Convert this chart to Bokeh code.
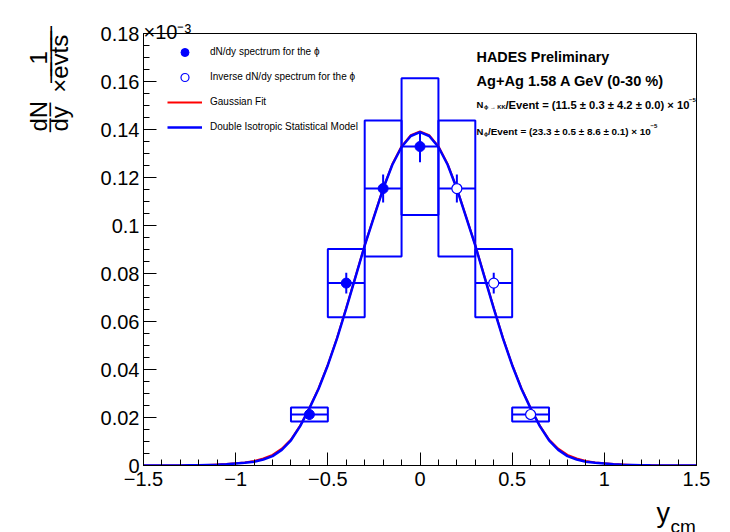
import math
from bokeh.plotting import figure
from bokeh.models import (Range1d, FixedTicker, Label, Legend, LegendItem,
                          ColumnDataSource)
from bokeh.embed import file_html
from bokeh.resources import INLINE

# ---------------- data ----------------
y_cm = [-0.6, -0.4, -0.2, 0.0]
dndy = [0.02125, 0.0760, 0.1154, 0.1329]
stat_err = [0.0021, 0.0043, 0.0058, 0.0065]
sys_err = [0.0029, 0.0142, 0.0283, 0.0285]
x_err = [0.1, 0.1, 0.1, 0.1]

inv_y_cm = [0.2, 0.4, 0.6]
inv_dndy = [0.1154, 0.0760, 0.02125]
inv_stat_err = [0.0058, 0.0043, 0.0021]
inv_sys_err = [0.0283, 0.0142, 0.0029]
inv_x_err = [0.1, 0.1, 0.1]

curve_x = [-1.5, -1.45, -1.4, -1.35, -1.3, -1.25, -1.2, -1.15, -1.1, -1.05,
           -1.0, -0.95, -0.9, -0.85, -0.8, -0.75, -0.7, -0.65, -0.6, -0.55,
           -0.5, -0.45, -0.4, -0.35, -0.3, -0.25, -0.2, -0.15, -0.1, -0.05,
           0.0, 0.05, 0.1, 0.15, 0.2, 0.25, 0.3, 0.35, 0.4, 0.45,
           0.5, 0.55, 0.6, 0.65, 0.7, 0.75, 0.8, 0.85, 0.9, 0.95,
           1.0, 1.05, 1.1, 1.15, 1.2, 1.25, 1.3, 1.35, 1.4, 1.45, 1.5]
model_y = [0.0, 0.0, 0.0, 0.00001, 0.00003, 0.00006, 0.0001, 0.0002, 0.0003, 0.0005,
           0.0008, 0.0011, 0.0016, 0.0025, 0.0039, 0.0065, 0.0105, 0.0164, 0.0238, 0.0320,
           0.0418, 0.0530, 0.0655, 0.0785, 0.0916, 0.1035, 0.1153, 0.1253, 0.1327, 0.1373,
           0.1389, 0.1373, 0.1327, 0.1253, 0.1153, 0.1035, 0.0916, 0.0785, 0.0655, 0.0530,
           0.0418, 0.0320, 0.0238, 0.0164, 0.0105, 0.0065, 0.0039, 0.0025, 0.0016, 0.0011,
           0.0008, 0.0005, 0.0003, 0.0002, 0.0001, 0.00006, 0.00003, 0.00001, 0.0, 0.0, 0.0]
gauss_y = [0.0, 0.0, 0.00001, 0.00002, 0.00005, 0.0001, 0.00015, 0.0002, 0.0004, 0.0006,
           0.0009, 0.0013, 0.0019, 0.0029, 0.0044, 0.0070, 0.0108, 0.0166, 0.0240, 0.0322,
           0.0420, 0.0532, 0.0657, 0.0787, 0.0918, 0.1037, 0.1155, 0.1256, 0.1330, 0.1376,
           0.1392, 0.1376, 0.1330, 0.1256, 0.1155, 0.1037, 0.0918, 0.0787, 0.0657, 0.0532,
           0.0420, 0.0322, 0.0240, 0.0166, 0.0108, 0.0070, 0.0044, 0.0029, 0.0019, 0.0013,
           0.0009, 0.0006, 0.0004, 0.0002, 0.00015, 0.0001, 0.00005, 0.00002, 0.00001, 0.0, 0.0]

x_ticks = [-1.5, -1.0, -0.5, 0.0, 0.5, 1.0, 1.5]
x_tick_labels = ["\u22121.5", "\u22121", "\u22120.5", "0", "0.5", "1", "1.5"]
y_ticks = [0.0, 0.02, 0.04, 0.06, 0.08, 0.10, 0.12, 0.14, 0.16, 0.18]
y_tick_labels = ["0", "0.02", "0.04", "0.06", "0.08", "0.1", "0.12", "0.14", "0.16", "0.18"]

legend_labels = ["dN/dy spectrum for the \u03d5",
                 "Inverse dN/dy spectrum for the \u03d5",
                 "Gaussian Fit",
                 "Double Isotropic Statistical Model"]

# ---------------- layout ----------------
W, H = 730, 532
FL, FR, FT, FB = 143, 696, 33, 465   # frame edges in page pixels
BLUE = "#0000ff"
RED = "#ff0000"
FONT = "Liberation Sans"

p = figure(width=W, height=H, output_backend="svg", toolbar_location=None,
           x_range=Range1d(-1.5, 1.5), y_range=Range1d(0, 0.18),
           min_border_left=FL, min_border_right=W - FR,
           min_border_top=FT, min_border_bottom=H - FB)
p.background_fill_color = "white"
p.border_fill_color = "white"
p.outline_line_color = "black"
p.outline_line_width = 1
p.xgrid.visible = False
p.ygrid.visible = False

for ax, ticks, labels in ((p.xaxis[0], x_ticks, x_tick_labels),
                          (p.yaxis[0], y_ticks, y_tick_labels)):
    ax.major_label_overrides = {t: l for t, l in zip(ticks, labels)}
    ax.major_label_text_font = FONT
    ax.major_label_text_font_size = "20px"
    ax.major_label_text_color = "black"
    ax.axis_line_color = "black"
    ax.axis_line_width = 1
    ax.major_tick_line_color = "black"
    ax.minor_tick_line_color = "black"
    ax.major_tick_in = 13
    ax.major_tick_out = 0
    ax.minor_tick_in = 6
    ax.minor_tick_out = 0

x_minor = [round(-1.5 + 0.1 * i, 2) for i in range(31)]
y_minor = [round(0.005 * i, 3) for i in range(37)]
p.xaxis[0].ticker = FixedTicker(ticks=x_ticks, minor_ticks=x_minor)
p.yaxis[0].ticker = FixedTicker(ticks=y_ticks, minor_ticks=y_minor)
p.xaxis[0].major_label_standoff = 6
p.yaxis[0].major_label_standoff = 4

# ---------------- systematic boxes ----------------
all_x = y_cm + inv_y_cm
all_y = dndy + inv_dndy
all_sys = sys_err + inv_sys_err
all_xe = x_err + inv_x_err
box_src = ColumnDataSource(dict(
    left=[x - e for x, e in zip(all_x, all_xe)],
    right=[x + e for x, e in zip(all_x, all_xe)],
    bottom=[y - s for y, s in zip(all_y, all_sys)],
    top=[y + s for y, s in zip(all_y, all_sys)]))
p.quad(left="left", right="right", bottom="bottom", top="top", source=box_src,
       fill_color=None, line_color=BLUE, line_width=2)

# ---------------- curves ----------------
r_gauss = p.line(curve_x, gauss_y, line_color=RED, line_width=2)
r_model = p.line(curve_x, model_y, line_color=BLUE, line_width=2.5)

# ---------------- error bars ----------------
all_stat = stat_err + inv_stat_err
p.segment(x0=all_x, x1=all_x,
          y0=[y - s for y, s in zip(all_y, all_stat)],
          y1=[y + s for y, s in zip(all_y, all_stat)],
          line_color=BLUE, line_width=2)
p.segment(x0=[x - e for x, e in zip(all_x, all_xe)],
          x1=[x + e for x, e in zip(all_x, all_xe)],
          y0=all_y, y1=all_y, line_color=BLUE, line_width=2)

# ---------------- points ----------------
r_fill = p.scatter(y_cm, dndy, marker="circle", size=10,
                   fill_color=BLUE, line_color=BLUE)
r_open = p.scatter(inv_y_cm, inv_dndy, marker="circle", size=10,
                   fill_color="white", line_color=BLUE, line_width=1.2)

# ---------------- legend ----------------
legend = Legend(items=[LegendItem(label=legend_labels[0], renderers=[r_fill]),
                       LegendItem(label=legend_labels[1], renderers=[r_open]),
                       LegendItem(label=legend_labels[2], renderers=[r_gauss]),
                       LegendItem(label=legend_labels[3], renderers=[r_model])],
                location=(167 - FL, FB - 136.5),
                padding=0, margin=0, spacing=5,
                glyph_width=35, glyph_height=20, label_height=20,
                label_standoff=8, label_text_font=FONT,
                label_text_font_size="10px", label_text_color="black",
                border_line_color=None, background_fill_alpha=0.0)
p.add_layout(legend, "center")


# ---------------- free texts ----------------
def lab(text, px, py, size, bold=False, align="left", baseline="alphabetic",
        angle=0.0, place="center", line_height=1.2):
    if place == "center":
        lbl = Label(x=px - FL, y=FB - py, x_units="screen", y_units="screen")
    else:
        # canvas units: pixels from the page's top-left corner
        lbl = Label(x=px, y=py, x_units="canvas", y_units="canvas")
    lbl.update(text=text, text_font=FONT, text_font_size=f"{size}px",
               text_font_style="bold" if bold else "normal",
               text_color="black", text_align=align,
               text_baseline=baseline, angle=angle,
               text_line_height=line_height)
    p.add_layout(lbl, place)


# header texts (inside the frame)
lab("HADES Preliminary", 476, 56, 14.4, bold=True)
lab("Ag+Ag 1.58 A GeV (0-30 %)", 476, 80, 14.6, bold=True)
lab("N", 476, 104, 9.5, bold=True)
lab("\u03d5 \u2192 KK", 483.5, 106.5, 5.8, bold=True)
lab("/Event = (11.5 \u00b1 0.3 \u00b1 4.2 \u00b1 0.0) \u00d7 10", 505, 104, 11.2, bold=True)
lab("\u22125", 688.5, 99, 6, bold=True)
lab("N", 476, 130.5, 9.5, bold=True)
lab("\u03d5", 483.5, 133, 5.5, bold=True)
lab("/Event = (23.3 \u00b1 0.5 \u00b1 8.6 \u00b1 0.1) \u00d7 10", 487.5, 130.5, 9.9, bold=True)
lab("\u22125", 650, 125.5, 6, bold=True)

# axis multiplier (above the frame)
lab("\u00d710\u207b\u00b3", 143, 31, 20, place="above")

# x title (below the frame, at the right end)
lab("y", 656, 512, 27, place="below")
lab("cm", 670, 526, 19, place="left")

# y title: dN/dy x 1/evts as two rotated lines; the fraction bars are the
# underlines (combining low line) of the numerators
TH, NB, UL = "\u2009", "\u00a0", "\u0332"


def underline(s):
    return "".join(c + UL for c in s)


ytitle = "\n".join([
    underline("dN") + NB + NB + TH + underline(NB + NB + TH + "1" + NB + NB + TH),
    "dy" + NB + NB + "\u00d7" + "evts",
])
lab(ytitle, 48.5, 131, 24, align="left", baseline="middle", angle=math.pi / 2,
    place="left", line_height=0.775)

open("out.html", "w").write(file_html(p, INLINE))
